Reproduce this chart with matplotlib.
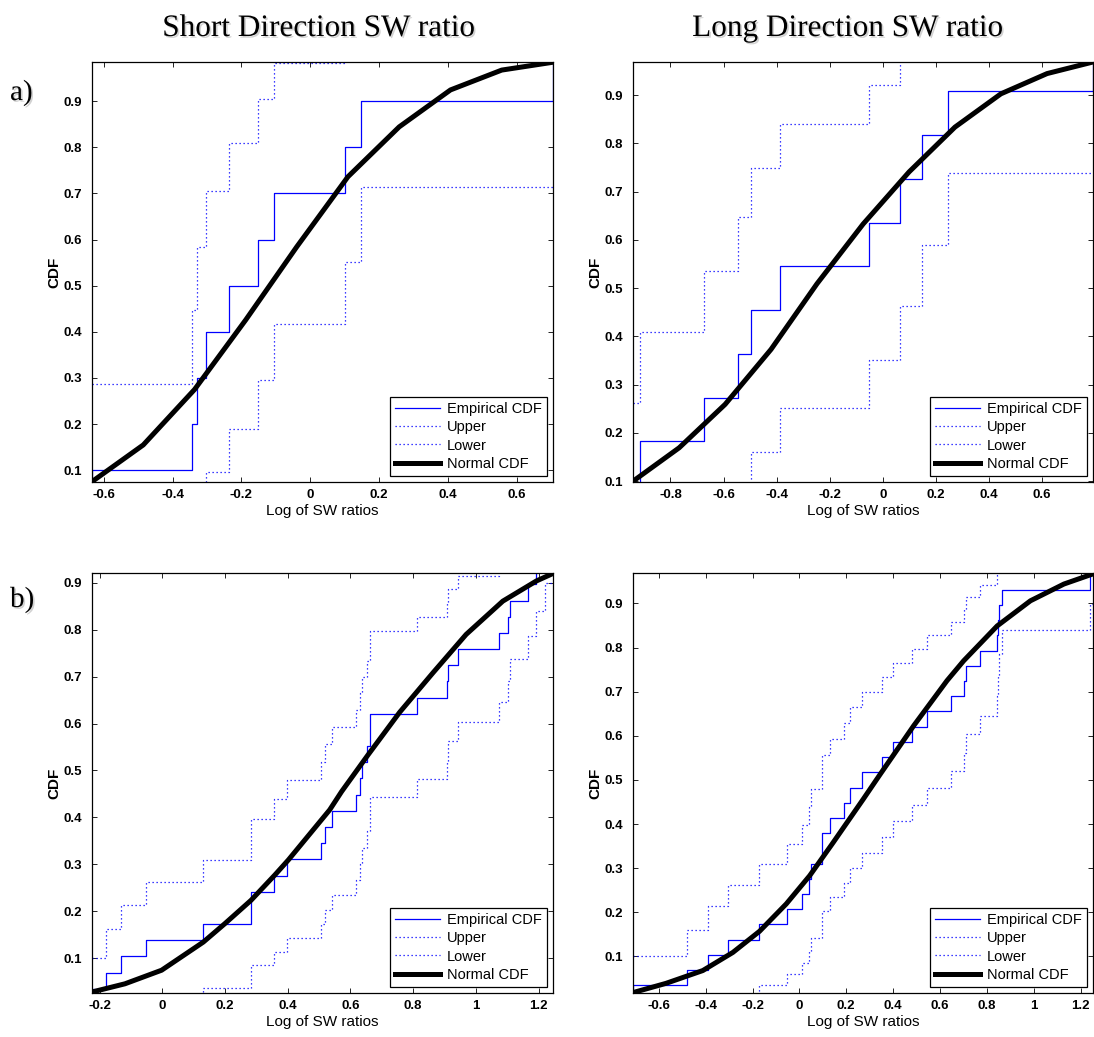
'''
plot.py

Empirical vs. normal CDF of log SW ratios, short and long direction.
'''

import matplotlib
matplotlib.use('Agg')
import matplotlib.pyplot as plt
import matplotlib.patheffects as pe
from matplotlib.ticker import FuncFormatter
import numpy as np

nan = np.nan

# a) short direction, n = 10
shortA_x     = [-0.634, -0.342, -0.329, -0.304, -0.235, -0.151, -0.106, 0.102, 0.147, 0.706]
shortA_cdf   = [0.1, 0.2, 0.3, 0.4, 0.5, 0.6, 0.7, 0.8, 0.9, 1.0]
shortA_upper = [0.286, 0.448, 0.584, 0.704, 0.810, 0.904, 0.983, 1.0, 1.0, nan]
shortA_lower = [0.0, 0.0, 0.016, 0.096, 0.190, 0.296, 0.416, 0.552, 0.714, nan]
shortA_normX = [-0.634, -0.485, -0.336, -0.187, -0.039, 0.110, 0.259, 0.408, 0.557, 0.706]
shortA_normY = [0.0755, 0.155, 0.275, 0.426, 0.584, 0.736, 0.844, 0.924, 0.967, 0.984]

# a) long direction, n = 11
longA_x     = [-0.941, -0.913, -0.672, -0.545, -0.496, -0.387, -0.052, 0.065, 0.148, 0.245, 0.792]
longA_cdf   = [0.091, 0.182, 0.273, 0.364, 0.455, 0.545, 0.636, 0.727, 0.818, 0.909, 1.0]
longA_upper = [0.261, 0.410, 0.536, 0.648, 0.749, 0.840, 0.921, 0.991, 1.0, 1.0, nan]
longA_lower = [0.0, 0.0, 0.010, 0.079, 0.160, 0.251, 0.352, 0.464, 0.590, 0.739, nan]
longA_normX = [-0.941, -0.767, -0.594, -0.421, -0.248, -0.074, 0.099, 0.272, 0.445, 0.619, 0.792]
longA_normY = [0.0996, 0.169, 0.259, 0.373, 0.509, 0.633, 0.741, 0.834, 0.903, 0.945, 0.969]

# b) short direction, n = 29
shortB_x     = [-0.224, -0.179, -0.131, -0.053, 0.131, 0.283, 0.357, 0.399, 0.506, 0.518,
                0.542, 0.617, 0.629, 0.638, 0.653, 0.661, 0.812, 0.908, 0.911, 0.943,
                1.074, 1.102, 1.108, 1.166, 1.191, 1.219, 1.246]
shortB_cdf   = [0.0345, 0.0690, 0.1034, 0.1379, 0.1724, 0.2414, 0.2759, 0.3103, 0.3448, 0.3793,
                0.4138, 0.4483, 0.4828, 0.5172, 0.5517, 0.6207, 0.6552, 0.6897, 0.7241, 0.7586,
                0.7931, 0.8276, 0.8621, 0.8966, 0.9310, 0.9655, 1.0]
shortB_upper = [0.101, 0.161, 0.214, 0.263, 0.310, 0.397, 0.439, 0.479, 0.518, 0.556,
                0.593, 0.629, 0.665, 0.699, 0.733, 0.797, 0.828, 0.858, 0.887, 0.914,
                0.941, 0.965, 0.988, 1.0, 1.0, 1.0, nan]
shortB_lower = [0.0, 0.0, 0.0, 0.012, 0.035, 0.086, 0.113, 0.142, 0.172, 0.203,
                0.235, 0.267, 0.301, 0.335, 0.371, 0.444, 0.482, 0.521, 0.562, 0.603,
                0.646, 0.690, 0.737, 0.786, 0.839, 0.899, nan]
shortB_normX = [-0.224, -0.119, -0.002, 0.131, 0.200, 0.283, 0.359, 0.402, 0.476, 0.534,
                0.572, 0.656, 0.757, 0.863, 0.969, 1.086, 1.193, 1.246]
shortB_normY = [0.0275, 0.045, 0.074, 0.134, 0.1735, 0.223, 0.277, 0.309, 0.369, 0.416,
                0.455, 0.533, 0.624, 0.708, 0.790, 0.861, 0.904, 0.920]

# b) long direction, n = 29
longB_x     = [-0.710, -0.479, -0.389, -0.304, -0.174, -0.051, 0.011, 0.040, 0.050, 0.096,
               0.130, 0.190, 0.217, 0.268, 0.352, 0.398, 0.482, 0.543, 0.647, 0.704,
               0.709, 0.771, 0.844, 0.848, 0.851, 0.865, 1.240, 1.253]
longB_cdf   = [0.0345, 0.0690, 0.1034, 0.1379, 0.1724, 0.2069, 0.2414, 0.2759, 0.3103, 0.3793,
               0.4138, 0.4483, 0.4828, 0.5172, 0.5517, 0.5862, 0.6207, 0.6552, 0.6897, 0.7241,
               0.7586, 0.7931, 0.8276, 0.8621, 0.8966, 0.9310, 0.9655, 1.0]
longB_upper = [0.101, 0.161, 0.214, 0.263, 0.310, 0.354, 0.397, 0.439, 0.479, 0.556,
               0.593, 0.629, 0.665, 0.699, 0.733, 0.766, 0.797, 0.828, 0.858, 0.887,
               0.914, 0.941, 0.965, 0.988, 1.0, 1.0, 1.0, nan]
longB_lower = [0.0, 0.0, 0.0, 0.012, 0.035, 0.060, 0.086, 0.113, 0.142, 0.203,
               0.235, 0.267, 0.301, 0.335, 0.371, 0.407, 0.444, 0.482, 0.521, 0.562,
               0.603, 0.646, 0.690, 0.737, 0.786, 0.839, 0.899, nan]
longB_normX = [-0.710, -0.569, -0.412, -0.284, -0.170, -0.056, 0.044, 0.144, 0.272, 0.345,
               0.488, 0.630, 0.701, 0.844, 0.986, 1.129, 1.253]
longB_normY = [0.018, 0.039, 0.068, 0.109, 0.157, 0.219, 0.283, 0.358, 0.456, 0.513,
               0.623, 0.725, 0.770, 0.849, 0.906, 0.944, 0.967]

colTitles = ['Short Direction SW ratio', 'Long Direction SW ratio']
rowLabels = ['a)', 'b)']

plt.rcParams['axes.unicode_minus'] = False
SANS = 'Liberation Sans'
SERIF = 'Liberation Serif'


def drawPanel(ax, x, cdf, upper, lower, normX, normY, xlim, ylim, xticks):

    # stairs start at first sample with F = 0, bounds undefined there
    xs = [x[0]] + list(x)
    ax.step(xs, [0.0] + list(cdf), where='post', color='blue', lw=0.9, label='Empirical CDF')
    ax.step(xs, [nan] + list(upper), where='post', color='blue', lw=0.9,
            linestyle=(0, (1, 2.2)), label='Upper')
    ax.step(xs, [nan] + list(lower), where='post', color='blue', lw=0.9,
            linestyle=(0, (1, 2.2)), label='Lower')
    ax.plot(normX, normY, color='black', lw=3.6, label='Normal CDF')

    ax.set_xlim(xlim)
    ax.set_ylim(ylim)
    ax.set_xticks(xticks)
    ax.set_yticks([0.1, 0.2, 0.3, 0.4, 0.5, 0.6, 0.7, 0.8, 0.9])
    fmt = FuncFormatter(lambda v, p: '%g' % round(v, 2))
    ax.xaxis.set_major_formatter(fmt)
    ax.yaxis.set_major_formatter(fmt)

    ax.tick_params(direction='in', top=True, right=True, length=3.8, width=0.6)
    ax.tick_params(axis='y', pad=7)
    ax.tick_params(axis='x', pad=5)
    for lab in ax.get_xticklabels() + ax.get_yticklabels():
        lab.set_fontfamily(SANS)
        lab.set_fontweight('bold')
        lab.set_fontsize(9.5)
    for sp in ax.spines.values():
        sp.set_linewidth(0.9)

    ax.set_xlabel('Log of SW ratios', fontsize=11, fontfamily=SANS)
    ax.set_ylabel('CDF', fontsize=11, fontfamily=SANS, fontweight='bold')
    ax.xaxis.set_label_coords(0.5, -0.052)
    ax.yaxis.set_label_coords(-0.067, 0.5)

    leg = ax.legend(loc='lower right', bbox_to_anchor=(1 - 6 / 461, 6 / 420), borderaxespad=0,
                    fancybox=False, framealpha=1, edgecolor='black',
                    prop={'family': SANS, 'size': 10.5}, handlelength=3.1,
                    handletextpad=0.45, labelspacing=0.3, borderpad=0.35)
    leg.get_frame().set_linewidth(0.9)


def createPlot():

    fig = plt.figure(figsize=(10.94, 10.37), dpi=100)

    W, H = 1094.0, 1037.0
    boxes = [(92, 553, 62, 482), (633, 1093, 62, 482),
             (92, 553, 573, 993), (633, 1093, 573, 993)]
    axes = [fig.add_axes([l / W, 1 - b / H, (r - l) / W, (b - t) / H]) for l, r, t, b in boxes]

    drawPanel(axes[0], shortA_x, shortA_cdf, shortA_upper, shortA_lower, shortA_normX, shortA_normY,
              (-0.634, 0.706), (0.0747, 0.9845), [-0.6, -0.4, -0.2, 0, 0.2, 0.4, 0.6])
    drawPanel(axes[1], longA_x, longA_cdf, longA_upper, longA_lower, longA_normX, longA_normY,
              (-0.941, 0.792), (0.098, 0.969), [-0.8, -0.6, -0.4, -0.2, 0, 0.2, 0.4, 0.6])
    drawPanel(axes[2], shortB_x, shortB_cdf, shortB_upper, shortB_lower, shortB_normX, shortB_normY,
              (-0.224, 1.246), (0.0254, 0.921), [-0.2, 0, 0.2, 0.4, 0.6, 0.8, 1, 1.2])
    drawPanel(axes[3], longB_x, longB_cdf, longB_upper, longB_lower, longB_normX, longB_normY,
              (-0.710, 1.253), (0.0171, 0.969), [-0.6, -0.4, -0.2, 0, 0.2, 0.4, 0.6, 0.8, 1, 1.2])

    # serif titles with a soft shadow
    shadow = [pe.SimplePatchShadow(offset=(1.2, -1.2), shadow_rgbFace='0.5', alpha=0.35), pe.Normal()]
    fig.text(319 / W, 1 - 36 / H, colTitles[0], ha='center', va='baseline', fontsize=22.5,
             fontfamily=SERIF, path_effects=shadow)
    fig.text(848 / W, 1 - 36 / H, colTitles[1], ha='center', va='baseline', fontsize=22.5,
             fontfamily=SERIF, path_effects=shadow)
    fig.text(10 / W, 1 - 100 / H, rowLabels[0], ha='left', va='baseline', fontsize=21,
             fontfamily=SERIF, path_effects=shadow)
    fig.text(10 / W, 1 - 607 / H, rowLabels[1], ha='left', va='baseline', fontsize=21,
             fontfamily=SERIF, path_effects=shadow)

    fig.savefig('out.png', dpi=100)


if __name__ == "__main__":
    createPlot()
